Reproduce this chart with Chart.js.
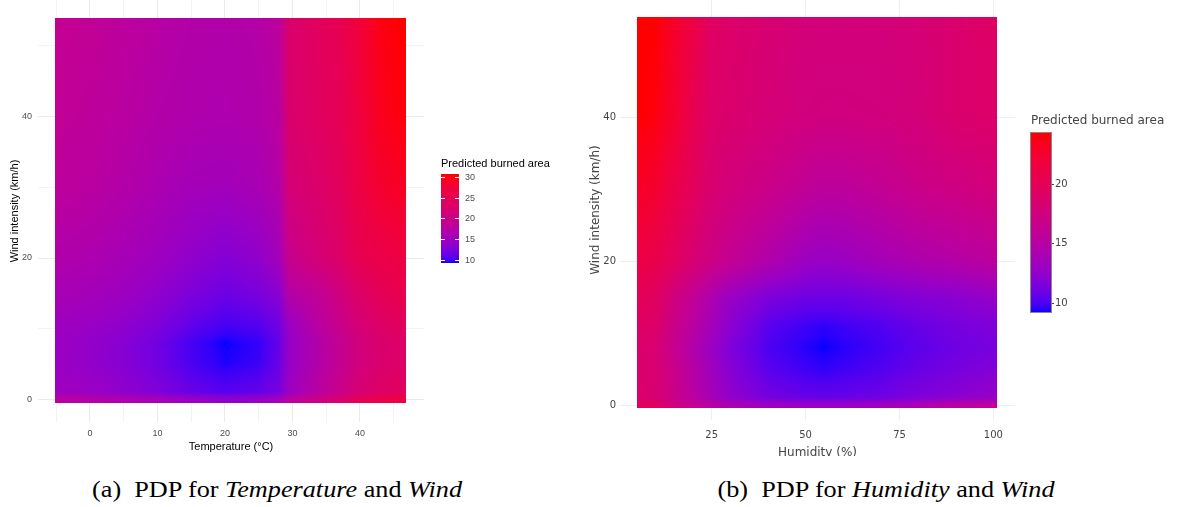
<!DOCTYPE html>
<html>
<head>
<meta charset="utf-8">
<script src="https://cdn.jsdelivr.net/npm/chart.js@4.4.0/dist/chart.umd.min.js"></script>
<style>
body{margin:0;width:1179px;height:507px;background:#fff;position:relative;overflow:hidden}
#chartA{position:absolute;left:0;top:0}
#chartB{position:absolute;left:580px;top:0}
.cap{position:absolute;top:478px;line-height:23px;font-family:"Liberation Serif";font-size:23px;color:#000;white-space:nowrap;transform:translateX(-50%) scaleX(1.14)}
</style>
</head>
<body>
<canvas id="chartA" width="580" height="460"></canvas>
<canvas id="chartB" width="599" height="456"></canvas>
<div class="cap" style="left:277px">(a)&nbsp; PDP for <i>Temperature</i> and <i>Wind</i></div>
<div class="cap" style="left:886px">(b)&nbsp; PDP for <i>Humidity</i> and <i>Wind</i></div>
<script>
// panel (a): temperature x wind, one row per wind value
var tempGrid = [-5, 0, 5, 10, 15, 20, 25, 28, 29.5, 34, 37, 40, 43, 46];
var windGrid = [0, 1, 5, 8, 11, 15, 20, 30, 40, 54];
var burnedA = [
  [17.7,17.2,16.6,15.7,14.6,13.8,14.2,15.5,17.9,20.3,22.5,24.6,25.9,26.4],
  [15.1,14.6,13.8,12.7,11.4,10.7,11.2,12.3,14.6,17.9,19.9,22.0,23.3,24.2],
  [14.6,14.0,13.1,11.8,10.3, 9.4, 9.9,11.4,14.2,17.0,19.0,21.2,22.5,23.1],
  [14.6,14.0,13.1,11.8,10.1, 9.2, 9.7,11.2,14.2,17.0,19.0,21.2,22.5,23.1],
  [15.1,14.6,13.8,12.7,11.2,10.3,10.7,12.0,14.6,17.9,19.9,22.0,23.3,24.2],
  [15.9,15.5,14.9,13.8,12.5,11.6,12.3,13.3,17.2,18.8,20.9,23.1,24.6,25.5],
  [16.8,16.4,15.7,14.9,13.8,12.9,13.8,15.5,19.4,21.8,23.1,25.3,25.9,26.4],
  [18.1,17.7,17.0,16.2,15.5,15.3,15.9,17.0,21.6,22.9,24.2,26.4,28.1,29.0],
  [18.8,18.3,17.7,17.0,16.6,16.4,16.8,17.7,22.5,23.8,24.8,27.0,29.4,30.3],
  [19.2,18.8,18.1,17.5,17.0,16.8,17.2,18.1,22.7,24.0,25.1,27.4,30.0,30.7]
];
var tempExtent = [-5.2, 46.8];
var windExtentA = [-0.5, 53.9];
var tempTicks = [-5, 0, 5, 10, 15, 20, 25, 30, 35, 40, 45];
var tempLabels = [0, 10, 20, 30, 40];
var windTicksA = [0, 10, 20, 30, 40, 50];
var windLabelsA = [0, 20, 40];
var legendTicksA = [10, 15, 20, 25, 30];

// panel (b): humidity x wind
var humGrid = [5, 10, 15, 20, 25, 30, 40, 50, 55, 60, 70, 80, 90, 101];
var burnedB = [
  [19.8,19.5,17.7,16.4,15.1,14.3,13.3,13.0,13.0,13.0,13.4,14.2,15.4,16.1],
  [18.6,18.3,16.8,15.2,13.7,12.5,11.2,10.7,10.7,10.7,11.0,11.6,12.1,12.8],
  [18.7,18.4,16.8,14.9,13.3,11.9,10.3, 9.7, 9.5, 9.7,10.1,10.7,11.2,11.8],
  [18.7,18.4,16.4,14.6,13.0,11.6,10.0, 9.4, 9.2, 9.4, 9.8,10.4,10.9,11.3],
  [19.3,19.0,16.8,15.2,13.6,12.1,10.3, 9.7, 9.5, 9.7,10.1,10.7,11.2,11.6],
  [20.1,19.5,17.5,16.0,14.3,13.0,11.5,10.9,10.9,10.9,11.3,11.8,12.1,12.8],
  [21.3,20.8,19.6,18.3,17.1,16.1,14.5,13.1,12.8,13.0,13.7,14.3,14.8,15.4],
  [23.1,22.5,21.0,19.8,18.4,17.7,16.8,15.8,15.4,15.5,16.0,16.8,17.2,17.8],
  [24.3,24.0,22.5,20.5,18.9,18.6,18.0,17.5,17.4,17.4,17.5,17.8,18.6,18.9],
  [24.3,24.3,22.8,21.3,19.3,18.9,18.3,17.8,17.8,17.8,17.8,18.1,18.6,19.2]
];
var humExtent = [5.1, 101];
var windExtentB = [-0.4, 53.9];
var humTicks = [25, 50, 75, 100];
var windTicksB = [0, 20, 40];
var legendTicksB = [10, 15, 20];

// blue -> red gradient in Lab space
function toLin(c){ c /= 255; return c <= 0.04045 ? c / 12.92 : Math.pow((c + 0.055) / 1.055, 2.4); }
function toSrgb(c){ c = c <= 0.0031308 ? 12.92 * c : 1.055 * Math.pow(Math.max(c, 0), 1 / 2.4) - 0.055; return Math.round(Math.max(0, Math.min(1, c)) * 255); }
function rgbToLab(c){
  var r = toLin(c[0]), g = toLin(c[1]), b = toLin(c[2]);
  var x = (0.4124 * r + 0.3576 * g + 0.1805 * b) / 0.95047;
  var y = 0.2126 * r + 0.7152 * g + 0.0722 * b;
  var z = (0.0193 * r + 0.1192 * g + 0.9505 * b) / 1.08883;
  var f = function(t){ return t > 0.008856 ? Math.cbrt(t) : 7.787 * t + 16 / 116; };
  return [116 * f(y) - 16, 500 * (f(x) - f(y)), 200 * (f(y) - f(z))];
}
function labToRgb(l){
  var fy = (l[0] + 16) / 116, fx = fy + l[1] / 500, fz = fy - l[2] / 200;
  var inv = function(t){ return t * t * t > 0.008856 ? t * t * t : (t - 16 / 116) / 7.787; };
  var x = inv(fx) * 0.95047, y = inv(fy), z = inv(fz) * 1.08883;
  return [toSrgb(3.2406 * x - 1.5372 * y - 0.4986 * z),
          toSrgb(-0.9689 * x + 1.8758 * y + 0.0415 * z),
          toSrgb(0.0557 * x - 0.2040 * y + 1.0570 * z)];
}
var labLo = rgbToLab([0, 0, 255]), labHi = rgbToLab([255, 0, 0]);
var lut = [];
for (var k = 0; k <= 255; k++) {
  var t = k / 255;
  lut.push(labToRgb([labLo[0] + t * (labHi[0] - labLo[0]), labLo[1] + t * (labHi[1] - labLo[1]), labLo[2] + t * (labHi[2] - labLo[2])]));
}
function colorAt(v, lo, hi){
  var k = Math.round((v - lo) / (hi - lo) * 255);
  return lut[Math.max(0, Math.min(255, k))];
}
function rangeOf(m){
  var all = [].concat.apply([], m);
  return [Math.min.apply(null, all), Math.max.apply(null, all)];
}
function locate(grid, v){
  var n = grid.length - 1;
  if (v <= grid[0]) return [0, 0];
  if (v >= grid[n]) return [n - 1, 1];
  var i = 0;
  while (grid[i + 1] < v) i++;
  return [i, (v - grid[i]) / (grid[i + 1] - grid[i])];
}

function heatPlugin(xGrid, yGrid, z, xExt, yExt){
  var rng = rangeOf(z);
  return {
    id: 'heat',
    beforeDatasetsDraw: function(chart){
      var xs = chart.scales.x, ys = chart.scales.y, ctx = chart.ctx;
      var x0 = Math.round(xs.getPixelForValue(xExt[0])), x1 = Math.round(xs.getPixelForValue(xExt[1]));
      var y0 = Math.round(ys.getPixelForValue(yExt[1])), y1 = Math.round(ys.getPixelForValue(yExt[0]));
      var w = x1 - x0, h = y1 - y0;
      var img = ctx.createImageData(w, h);
      for (var py = 0; py < h; py++) {
        var ly = locate(yGrid, ys.getValueForPixel(y0 + py + 0.5));
        for (var px = 0; px < w; px++) {
          var lx = locate(xGrid, xs.getValueForPixel(x0 + px + 0.5));
          var i = lx[0], fx = lx[1], j = ly[0], fy = ly[1];
          var v = (z[j][i] * (1 - fx) + z[j][i + 1] * fx) * (1 - fy) + (z[j + 1][i] * (1 - fx) + z[j + 1][i + 1] * fx) * fy;
          var c = colorAt(v, rng[0], rng[1]);
          var p = (py * w + px) * 4;
          img.data[p] = c[0]; img.data[p + 1] = c[1]; img.data[p + 2] = c[2]; img.data[p + 3] = 255;
        }
      }
      ctx.putImageData(img, x0, y0);
    }
  };
}

function barPlugin(z, ticks, box, style){
  var rng = rangeOf(z);
  return {
    id: 'colorbar',
    afterDraw: function(chart){
      var ctx = chart.ctx;
      ctx.save();
      for (var r = 0; r < box.h; r++) {
        var c = colorAt(rng[1] - (r + 0.5) / box.h * (rng[1] - rng[0]), rng[0], rng[1]);
        ctx.fillStyle = 'rgb(' + c.join(',') + ')';
        ctx.fillRect(box.x, box.y + r, box.w, 1);
      }
      if (style.border) {
        ctx.strokeStyle = style.border; ctx.lineWidth = 1;
        ctx.strokeRect(box.x - 0.5, box.y - 0.5, box.w + 1, box.h + 1);
      }
      ctx.font = style.font;
      ctx.fillStyle = style.color;
      ctx.textBaseline = 'middle';
      ticks.forEach(function(v){
        var y = Math.round(box.y + (rng[1] - v) / (rng[1] - rng[0]) * box.h) + 0.5;
        ctx.strokeStyle = style.tickColor; ctx.lineWidth = 1;
        ctx.beginPath();
        if (style.inner) {
          ctx.moveTo(box.x, y); ctx.lineTo(box.x + 4, y);
          ctx.moveTo(box.x + box.w - 4, y); ctx.lineTo(box.x + box.w, y);
        } else {
          ctx.moveTo(box.x + box.w + 1, y); ctx.lineTo(box.x + box.w + 3, y);
        }
        ctx.stroke();
        ctx.fillText(String(v), box.x + box.w + style.gap, y);
      });
      ctx.font = style.titleFont;
      ctx.fillStyle = style.titleColor;
      ctx.fillText('Predicted burned area', box.x, style.titleY);
      ctx.restore();
    }
  };
}

// keep the plot area exactly where the axes say, without label overhang padding
function fixX(h){ return function(s){ s.height = h; s.paddingLeft = 0; s.paddingRight = 0; }; }
function fixY(w){ return function(s){ s.width = w; s.paddingTop = 0; s.paddingBottom = 0; }; }

var fontA = 'Liberation Sans';
new Chart(document.getElementById('chartA'), {
  type: 'scatter',
  data: { datasets: [] },
  options: {
    responsive: false,
    animation: false,
    events: [],
    layout: { padding: { left: 0, top: 0, right: 156, bottom: 0 } },
    plugins: { legend: { display: false }, tooltip: { enabled: false } },
    scales: {
      x: {
        type: 'linear', min: -7.7, max: 49.5,
        afterBuildTicks: function(s){ s.ticks = tempTicks.map(function(v){ return { value: v }; }); },
        afterFit: fixX(38),
        border: { display: false },
        grid: { color: '#ebebeb', drawTicks: false, lineWidth: function(c){ return tempLabels.indexOf(c.tick.value) >= 0 ? 1 : 0.6; } },
        ticks: { autoSkip: false, maxRotation: 0, padding: 6, color: '#4d4d4d', font: { family: fontA, size: 9 },
          callback: function(v){ return tempLabels.indexOf(v) >= 0 ? String(v) : ''; } },
        title: { display: true, text: 'Temperature (°C)', color: '#000', font: { family: fontA, size: 11 }, padding: { top: 0, bottom: 6 } }
      },
      y: {
        type: 'linear', min: -3.2, max: 56.5,
        afterBuildTicks: function(s){ s.ticks = windTicksA.map(function(v){ return { value: v }; }); },
        afterFit: fixY(38),
        border: { display: false },
        grid: { color: '#ebebeb', drawTicks: false, lineWidth: function(c){ return windLabelsA.indexOf(c.tick.value) >= 0 ? 1 : 0.6; } },
        ticks: { autoSkip: false, padding: 6, color: '#4d4d4d', font: { family: fontA, size: 9 },
          callback: function(v){ return windLabelsA.indexOf(v) >= 0 ? String(v) : ''; } },
        title: { display: true, text: 'Wind intensity (km/h)', color: '#000', font: { family: fontA, size: 11 }, padding: { top: 8, bottom: 0 } }
      }
    }
  },
  plugins: [
    heatPlugin(tempGrid, windGrid, burnedA, tempExtent, windExtentA),
    barPlugin(burnedA, legendTicksA, { x: 441, y: 174, w: 18, h: 89 },
      { font: '9px ' + fontA, color: '#4d4d4d', tickColor: '#ffffff', inner: true, gap: 6,
        titleFont: '11px ' + fontA, titleColor: '#000', titleY: 164 })
  ]
});

var fontB = 'DejaVu Sans';
new Chart(document.getElementById('chartB'), {
  type: 'scatter',
  data: { datasets: [] },
  options: {
    responsive: false,
    animation: false,
    events: [],
    layout: { padding: { left: 0, top: 0, right: 164, bottom: 0 } },
    plugins: { legend: { display: false }, tooltip: { enabled: false } },
    scales: {
      x: {
        type: 'linear', min: 0.59, max: 105.75,
        afterBuildTicks: function(s){ s.ticks = humTicks.map(function(v){ return { value: v }; }); },
        afterFit: fixX(36),
        border: { display: false },
        grid: { color: '#eeeeee', drawTicks: false },
        ticks: { autoSkip: false, maxRotation: 0, padding: 9, color: '#444', font: { family: fontB, size: 10 } },
        title: { display: true, text: 'Humidity (%)', color: '#444', font: { family: fontB, size: 12 }, padding: { top: 0, bottom: -4 } }
      },
      y: {
        type: 'linear', min: -2.08, max: 56.25,
        afterBuildTicks: function(s){ s.ticks = windTicksB.map(function(v){ return { value: v }; }); },
        afterFit: fixY(40),
        border: { display: false },
        grid: { color: '#eeeeee', drawTicks: false },
        ticks: { autoSkip: false, padding: 4, color: '#444', font: { family: fontB, size: 10 } },
        title: { display: true, text: 'Wind intensity (km/h)', color: '#444', font: { family: fontB, size: 12 }, padding: { top: 9, bottom: 0 } }
      }
    }
  },
  plugins: [
    heatPlugin(humGrid, windGrid, burnedB, humExtent, windExtentB),
    barPlugin(burnedB, legendTicksB, { x: 451, y: 133, w: 20, h: 179 },
      { font: '10px ' + fontB, color: '#444', tickColor: '#444', inner: false, border: '#888', gap: 4,
        titleFont: '12px ' + fontB, titleColor: '#444', titleY: 121 })
  ]
});
</script>
</body>
</html>
